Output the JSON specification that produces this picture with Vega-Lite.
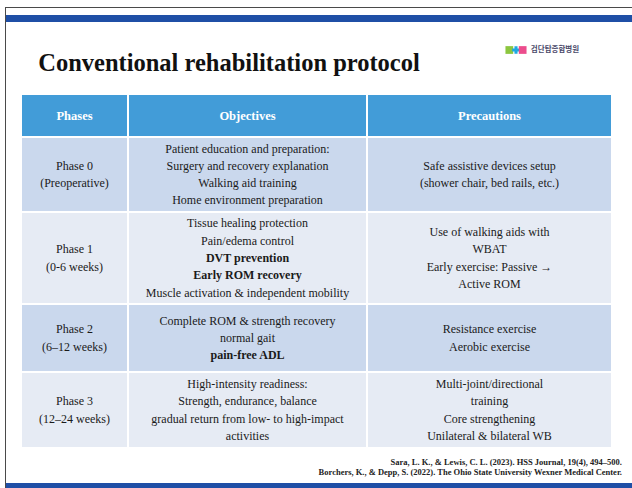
{
  "$schema": "https://vega.github.io/schema/vega-lite/v6.json",
  "padding": {"top": 7, "left": 5, "right": 0, "bottom": 0},
  "background": "white",
  "config": {"view": {"stroke": null}, "font": "Liberation Serif", "text": {"fontSize": 12, "color": "#1a1a1a"}},
  "datasets": {
    "cells": [
      {"row": "h", "col": "phase", "line": 0, "text": "Phases", "bold": true},
      {"row": "h", "col": "obj", "line": 0, "text": "Objectives", "bold": true},
      {"row": "h", "col": "prec", "line": 0, "text": "Precautions", "bold": true},
      {"row": "p0", "col": "phase", "line": 0, "text": "Phase 0", "bold": false},
      {"row": "p0", "col": "phase", "line": 1, "text": "(Preoperative)", "bold": false},
      {"row": "p0", "col": "obj", "line": 0, "text": "Patient education and preparation:", "bold": false},
      {"row": "p0", "col": "obj", "line": 1, "text": "Surgery and recovery explanation", "bold": false},
      {"row": "p0", "col": "obj", "line": 2, "text": "Walking aid training", "bold": false},
      {"row": "p0", "col": "obj", "line": 3, "text": "Home environment preparation", "bold": false},
      {"row": "p0", "col": "prec", "line": 0, "text": "Safe assistive devices setup", "bold": false},
      {"row": "p0", "col": "prec", "line": 1, "text": "(shower chair, bed rails, etc.)", "bold": false},
      {"row": "p1", "col": "phase", "line": 0, "text": "Phase 1", "bold": false},
      {"row": "p1", "col": "phase", "line": 1, "text": "(0-6 weeks)", "bold": false},
      {"row": "p1", "col": "obj", "line": 0, "text": "Tissue healing protection", "bold": false},
      {"row": "p1", "col": "obj", "line": 1, "text": "Pain/edema control", "bold": false},
      {"row": "p1", "col": "obj", "line": 2, "text": "DVT prevention", "bold": true},
      {"row": "p1", "col": "obj", "line": 3, "text": "Early ROM recovery", "bold": true},
      {"row": "p1", "col": "obj", "line": 4, "text": "Muscle activation & independent mobility", "bold": false},
      {"row": "p1", "col": "prec", "line": 0, "text": "Use of walking aids with", "bold": false},
      {"row": "p1", "col": "prec", "line": 1, "text": "WBAT", "bold": false},
      {"row": "p1", "col": "prec", "line": 2, "text": "Early exercise: Passive →", "bold": false},
      {"row": "p1", "col": "prec", "line": 3, "text": "Active ROM", "bold": false},
      {"row": "p2", "col": "phase", "line": 0, "text": "Phase 2", "bold": false},
      {"row": "p2", "col": "phase", "line": 1, "text": "(6–12 weeks)", "bold": false},
      {"row": "p2", "col": "obj", "line": 0, "text": "Complete ROM & strength recovery", "bold": false},
      {"row": "p2", "col": "obj", "line": 1, "text": "normal gait", "bold": false},
      {"row": "p2", "col": "obj", "line": 2, "text": "pain-free ADL", "bold": true},
      {"row": "p2", "col": "prec", "line": 0, "text": "Resistance exercise", "bold": false},
      {"row": "p2", "col": "prec", "line": 1, "text": "Aerobic exercise", "bold": false},
      {"row": "p3", "col": "phase", "line": 0, "text": "Phase 3", "bold": false},
      {"row": "p3", "col": "phase", "line": 1, "text": "(12–24 weeks)", "bold": false},
      {"row": "p3", "col": "obj", "line": 0, "text": "High-intensity readiness:", "bold": false},
      {"row": "p3", "col": "obj", "line": 1, "text": "Strength, endurance, balance", "bold": false},
      {"row": "p3", "col": "obj", "line": 2, "text": "gradual return from low- to high-impact", "bold": false},
      {"row": "p3", "col": "obj", "line": 3, "text": "activities", "bold": false},
      {"row": "p3", "col": "prec", "line": 0, "text": "Multi-joint/directional", "bold": false},
      {"row": "p3", "col": "prec", "line": 1, "text": "training", "bold": false},
      {"row": "p3", "col": "prec", "line": 2, "text": "Core strengthening", "bold": false},
      {"row": "p3", "col": "prec", "line": 3, "text": "Unilateral & bilateral WB", "bold": false}
    ],
    "heading": [{"text": "Conventional rehabilitation protocol"}],
    "refs": [
      {"line": 0, "text": "Sara, L. K., & Lewis, C. L. (2023). HSS Journal, 19(4), 494–500."},
      {"line": 1, "text": "Borchers, K., & Depp, S. (2022). The Ohio State University Wexner Medical Center."}
    ],
    "logo": [{"part": "leaf"}, {"part": "sky"}, {"part": "rose"}],
    "brand": [{"label": "검단탑종합병원"}]
  },
  "data": {"name": "cells"},
  "spacing": 0,
  "vconcat": [
    {"width": 627, "height": 1, "view": {"fill": "#4a4a4a"}, "transform": [{"filter": "false"}], "mark": "text"},
    {
      "spacing": 0,
      "hconcat": [
        {"width": 1, "height": 480, "view": {"fill": "#4a4a4a"}, "transform": [{"filter": "false"}], "mark": "text"},
        {
          "spacing": 0,
          "vconcat": [
            {"width": 626, "height": 7, "transform": [{"filter": "false"}], "mark": "text"},
            {"width": 626, "height": 7, "view": {"fill": "#1f4fa6"}, "transform": [{"filter": "false"}], "mark": "text"},
            {
              "spacing": 0,
              "hconcat": [
                {
                  "spacing": 0,
                  "vconcat": [
                    {"width": 446, "height": 29, "transform": [{"filter": "false"}], "mark": "text"},
                    {
                      "width": 446, "height": 40,
                      "data": {"name": "heading"},
                      "mark": {"type": "text", "fontSize": 24.5, "fontWeight": "bold", "color": "#111111", "baseline": "alphabetic"},
                      "encoding": {"text": {"field": "text", "type": "nominal"}}
                    },
                    {"width": 446, "height": 4, "transform": [{"filter": "false"}], "mark": "text"}
                  ]
                },
                {"width": 53, "height": 73, "transform": [{"filter": "false"}], "mark": "text"},
                {
                  "spacing": 0,
                  "vconcat": [
                    {"width": 72, "height": 18, "transform": [{"filter": "false"}], "mark": "text"},
                    {
                      "spacing": 0,
                      "hconcat": [
                        {
                          "width": 20, "height": 20,
                          "data": {"name": "logo"},
                          "mark": {"type": "point", "filled": true, "size": 60, "opacity": 1},
                          "encoding": {
                            "x": {"field": "part", "type": "nominal", "axis": null, "scale": {"type": "point", "domain": ["leaf", "sky", "rose"], "padding": 0.5}},
                            "color": {"field": "part", "type": "nominal", "legend": null, "scale": {"domain": ["leaf", "sky", "rose"], "range": ["#8cc63f", "#1fa8e0", "#ec4d8d"]}},
                            "shape": {"field": "part", "type": "nominal", "legend": null, "scale": {"domain": ["leaf", "sky", "rose"], "range": ["square", "cross", "square"]}}
                          }
                        },
                        {"width": 3, "height": 20, "transform": [{"filter": "false"}], "mark": "text"},
                        {
                          "width": 46, "height": 20,
                          "data": {"name": "brand"},
                          "mark": {"type": "text", "font": "Noto Sans CJK KR", "fontSize": 7.5, "fontWeight": "bold", "color": "#4a4a6a"},
                          "encoding": {"text": {"field": "label", "type": "nominal"}}
                        }
                      ]
                    },
                    {"width": 72, "height": 35, "transform": [{"filter": "false"}], "mark": "text"}
                  ]
                }
              ]
            },
            {
              "spacing": 0,
              "hconcat": [
                {"width": 16, "height": 352, "transform": [{"filter": "false"}], "mark": "text"},
                {
                  "spacing": 2,
                  "vconcat": [
                    {
                      "spacing": 2,
                      "hconcat": [
                        {"width": 105, "height": 41, "view": {"fill": "#429cd8"}, "transform": [{"filter": "datum.row === 'h' && datum.col === 'phase'"}], "mark": {"type": "text", "fontSize": 12.5, "fontWeight": "bold", "color": "white"}, "encoding": {"y": {"field": "line", "type": "quantitative", "axis": null, "scale": {"domain": [-1.185, 1.185], "reverse": true, "zero": false, "nice": false}}, "text": {"field": "text", "type": "nominal"}}},
                        {"width": 237, "height": 41, "view": {"fill": "#429cd8"}, "transform": [{"filter": "datum.row === 'h' && datum.col === 'obj'"}], "mark": {"type": "text", "fontSize": 12.5, "fontWeight": "bold", "color": "white"}, "encoding": {"y": {"field": "line", "type": "quantitative", "axis": null, "scale": {"domain": [-1.185, 1.185], "reverse": true, "zero": false, "nice": false}}, "text": {"field": "text", "type": "nominal"}}},
                        {"width": 243, "height": 41, "view": {"fill": "#429cd8"}, "transform": [{"filter": "datum.row === 'h' && datum.col === 'prec'"}], "mark": {"type": "text", "fontSize": 12.5, "fontWeight": "bold", "color": "white"}, "encoding": {"y": {"field": "line", "type": "quantitative", "axis": null, "scale": {"domain": [-1.185, 1.185], "reverse": true, "zero": false, "nice": false}}, "text": {"field": "text", "type": "nominal"}}}
                      ]
                    },
                    {
                      "spacing": 2,
                      "hconcat": [
                        {"width": 105, "height": 73, "view": {"fill": "#cad8ed"}, "transform": [{"filter": "datum.row === 'p0' && datum.col === 'phase'"}], "encoding": {"y": {"field": "line", "type": "quantitative", "axis": null, "scale": {"domain": [-1.61, 2.61], "reverse": true, "zero": false, "nice": false}}, "text": {"field": "text", "type": "nominal"}}, "layer": [{"transform": [{"filter": "!datum.bold"}], "mark": "text"}, {"transform": [{"filter": "datum.bold"}], "mark": {"type": "text", "fontWeight": "bold"}}]},
                        {"width": 237, "height": 73, "view": {"fill": "#cad8ed"}, "transform": [{"filter": "datum.row === 'p0' && datum.col === 'obj'"}], "encoding": {"y": {"field": "line", "type": "quantitative", "axis": null, "scale": {"domain": [-0.61, 3.61], "reverse": true, "zero": false, "nice": false}}, "text": {"field": "text", "type": "nominal"}}, "layer": [{"transform": [{"filter": "!datum.bold"}], "mark": "text"}, {"transform": [{"filter": "datum.bold"}], "mark": {"type": "text", "fontWeight": "bold"}}]},
                        {"width": 243, "height": 73, "view": {"fill": "#cad8ed"}, "transform": [{"filter": "datum.row === 'p0' && datum.col === 'prec'"}], "encoding": {"y": {"field": "line", "type": "quantitative", "axis": null, "scale": {"domain": [-1.61, 2.61], "reverse": true, "zero": false, "nice": false}}, "text": {"field": "text", "type": "nominal"}}, "layer": [{"transform": [{"filter": "!datum.bold"}], "mark": "text"}, {"transform": [{"filter": "datum.bold"}], "mark": {"type": "text", "fontWeight": "bold"}}]}
                      ]
                    },
                    {
                      "spacing": 2,
                      "hconcat": [
                        {"width": 105, "height": 90, "view": {"fill": "#e6ebf4"}, "transform": [{"filter": "datum.row === 'p1' && datum.col === 'phase'"}], "encoding": {"y": {"field": "line", "type": "quantitative", "axis": null, "scale": {"domain": [-2.1, 3.1], "reverse": true, "zero": false, "nice": false}}, "text": {"field": "text", "type": "nominal"}}, "layer": [{"transform": [{"filter": "!datum.bold"}], "mark": "text"}, {"transform": [{"filter": "datum.bold"}], "mark": {"type": "text", "fontWeight": "bold"}}]},
                        {"width": 237, "height": 90, "view": {"fill": "#e6ebf4"}, "transform": [{"filter": "datum.row === 'p1' && datum.col === 'obj'"}], "encoding": {"y": {"field": "line", "type": "quantitative", "axis": null, "scale": {"domain": [-0.6, 4.6], "reverse": true, "zero": false, "nice": false}}, "text": {"field": "text", "type": "nominal"}}, "layer": [{"transform": [{"filter": "!datum.bold"}], "mark": "text"}, {"transform": [{"filter": "datum.bold"}], "mark": {"type": "text", "fontWeight": "bold"}}]},
                        {"width": 243, "height": 90, "view": {"fill": "#e6ebf4"}, "transform": [{"filter": "datum.row === 'p1' && datum.col === 'prec'"}], "encoding": {"y": {"field": "line", "type": "quantitative", "axis": null, "scale": {"domain": [-1.1, 4.1], "reverse": true, "zero": false, "nice": false}}, "text": {"field": "text", "type": "nominal"}}, "layer": [{"transform": [{"filter": "!datum.bold"}], "mark": "text"}, {"transform": [{"filter": "datum.bold"}], "mark": {"type": "text", "fontWeight": "bold"}}]}
                      ]
                    },
                    {
                      "spacing": 2,
                      "hconcat": [
                        {"width": 105, "height": 66, "view": {"fill": "#cad8ed"}, "transform": [{"filter": "datum.row === 'p2' && datum.col === 'phase'"}], "encoding": {"y": {"field": "line", "type": "quantitative", "axis": null, "scale": {"domain": [-1.41, 2.41], "reverse": true, "zero": false, "nice": false}}, "text": {"field": "text", "type": "nominal"}}, "layer": [{"transform": [{"filter": "!datum.bold"}], "mark": "text"}, {"transform": [{"filter": "datum.bold"}], "mark": {"type": "text", "fontWeight": "bold"}}]},
                        {"width": 237, "height": 66, "view": {"fill": "#cad8ed"}, "transform": [{"filter": "datum.row === 'p2' && datum.col === 'obj'"}], "encoding": {"y": {"field": "line", "type": "quantitative", "axis": null, "scale": {"domain": [-0.91, 2.91], "reverse": true, "zero": false, "nice": false}}, "text": {"field": "text", "type": "nominal"}}, "layer": [{"transform": [{"filter": "!datum.bold"}], "mark": "text"}, {"transform": [{"filter": "datum.bold"}], "mark": {"type": "text", "fontWeight": "bold"}}]},
                        {"width": 243, "height": 66, "view": {"fill": "#cad8ed"}, "transform": [{"filter": "datum.row === 'p2' && datum.col === 'prec'"}], "encoding": {"y": {"field": "line", "type": "quantitative", "axis": null, "scale": {"domain": [-1.41, 2.41], "reverse": true, "zero": false, "nice": false}}, "text": {"field": "text", "type": "nominal"}}, "layer": [{"transform": [{"filter": "!datum.bold"}], "mark": "text"}, {"transform": [{"filter": "datum.bold"}], "mark": {"type": "text", "fontWeight": "bold"}}]}
                      ]
                    },
                    {
                      "spacing": 2,
                      "hconcat": [
                        {"width": 105, "height": 74, "view": {"fill": "#e6ebf4"}, "transform": [{"filter": "datum.row === 'p3' && datum.col === 'phase'"}], "encoding": {"y": {"field": "line", "type": "quantitative", "axis": null, "scale": {"domain": [-1.64, 2.64], "reverse": true, "zero": false, "nice": false}}, "text": {"field": "text", "type": "nominal"}}, "layer": [{"transform": [{"filter": "!datum.bold"}], "mark": "text"}, {"transform": [{"filter": "datum.bold"}], "mark": {"type": "text", "fontWeight": "bold"}}]},
                        {"width": 237, "height": 74, "view": {"fill": "#e6ebf4"}, "transform": [{"filter": "datum.row === 'p3' && datum.col === 'obj'"}], "encoding": {"y": {"field": "line", "type": "quantitative", "axis": null, "scale": {"domain": [-0.64, 3.64], "reverse": true, "zero": false, "nice": false}}, "text": {"field": "text", "type": "nominal"}}, "layer": [{"transform": [{"filter": "!datum.bold"}], "mark": "text"}, {"transform": [{"filter": "datum.bold"}], "mark": {"type": "text", "fontWeight": "bold"}}]},
                        {"width": 243, "height": 74, "view": {"fill": "#e6ebf4"}, "transform": [{"filter": "datum.row === 'p3' && datum.col === 'prec'"}], "encoding": {"y": {"field": "line", "type": "quantitative", "axis": null, "scale": {"domain": [-0.64, 3.64], "reverse": true, "zero": false, "nice": false}}, "text": {"field": "text", "type": "nominal"}}, "layer": [{"transform": [{"filter": "!datum.bold"}], "mark": "text"}, {"transform": [{"filter": "datum.bold"}], "mark": {"type": "text", "fontWeight": "bold"}}]}
                      ]
                    }
                  ]
                }
              ]
            },
            {
              "spacing": 0,
              "vconcat": [
                {"width": 626, "height": 10, "transform": [{"filter": "false"}], "mark": "text"},
                {
                  "width": 616, "height": 20,
                  "data": {"name": "refs"},
                  "mark": {"type": "text", "align": "right", "fontSize": 8.5, "fontWeight": "bold", "color": "#222222"},
                  "encoding": {
                    "x": {"value": "width"},
                    "y": {"field": "line", "type": "quantitative", "axis": null, "scale": {"domain": [-0.55, 1.55], "reverse": true, "zero": false, "nice": false}},
                    "text": {"field": "text", "type": "nominal"}
                  }
                },
                {"width": 626, "height": 6, "transform": [{"filter": "false"}], "mark": "text"}
              ]
            },
            {"width": 626, "height": 5, "view": {"fill": "#1f4fa6"}, "transform": [{"filter": "false"}], "mark": "text"}
          ]
        }
      ]
    }
  ]
}
